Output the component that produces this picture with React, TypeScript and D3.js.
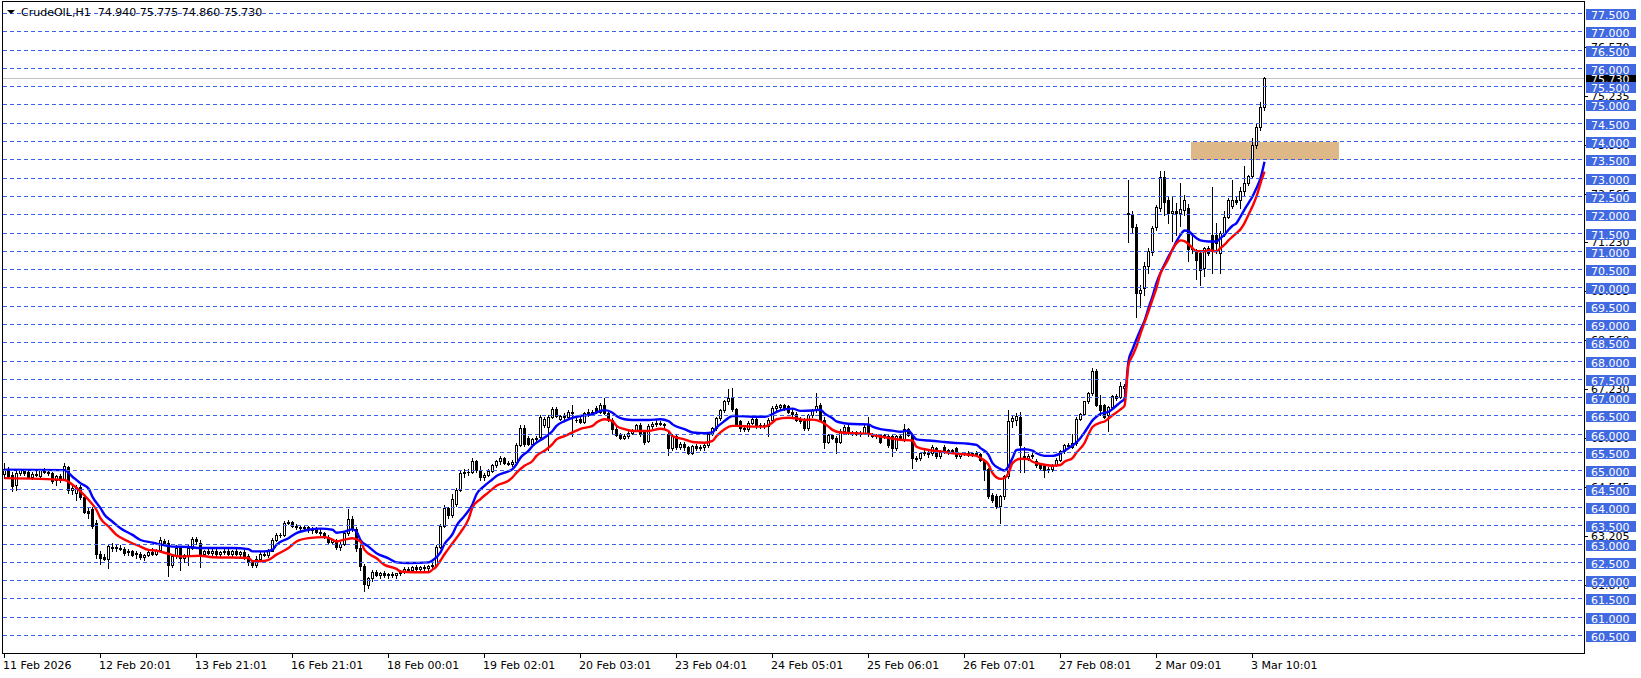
// CrudeOIL H1 chart (MT4 style) drawn with d3
import React, { useEffect, useRef } from 'react';
import * as d3 from 'd3';

const symbolName = 'CrudeOIL,H1';

// hourly bars [open, high, low, close]
const candles: [number, number, number, number][] = [
  [64.92,65.22,64.80,65.06],[65.05,65.10,64.82,64.86],[64.88,64.98,64.44,64.58],[64.60,65.00,64.48,64.94],
  [64.94,65.06,64.88,65.02],[65.00,65.04,64.90,64.95],[64.96,65.00,64.80,64.84],[64.84,64.98,64.78,64.92],
  [64.92,65.00,64.85,64.88],[64.86,65.05,64.82,65.02],[65.02,65.08,64.94,64.98],[64.98,65.04,64.90,64.94],
  [64.94,64.98,64.66,64.72],[64.74,64.90,64.62,64.86],[64.86,64.92,64.70,64.76],[64.78,65.22,64.74,65.12],
  [65.10,65.14,64.40,64.48],[64.48,64.60,64.36,64.52],[64.40,64.62,64.20,64.56],[64.56,64.60,64.24,64.28],
  [64.28,64.34,63.84,63.88],[63.90,64.02,63.72,63.84],[63.96,64.00,63.44,63.50],[63.58,63.66,62.62,62.72],
  [62.72,62.80,62.46,62.62],[62.64,62.72,62.56,62.60],[62.58,63.00,62.34,62.94],[62.92,63.02,62.82,62.88],
  [62.88,62.96,62.80,62.92],[62.90,62.98,62.84,62.86],[62.86,62.92,62.70,62.76],[62.78,62.86,62.70,62.82],
  [62.80,62.84,62.66,62.70],[62.72,62.80,62.62,62.76],[62.74,62.78,62.60,62.64],[62.64,62.74,62.56,62.70],
  [62.70,62.82,62.66,62.78],[62.78,62.88,62.70,62.74],[62.74,62.86,62.70,62.84],[62.84,63.18,62.80,63.10],
  [63.08,63.14,62.98,63.04],[63.04,63.10,62.12,62.44],[62.42,62.70,62.36,62.66],[62.68,62.96,62.62,62.90],
  [62.88,62.92,62.30,62.62],[62.62,62.74,62.52,62.70],[62.70,62.96,62.44,62.90],[62.90,63.18,62.86,63.14],
  [63.14,63.20,63.00,63.08],[63.02,63.10,62.36,62.72],[62.72,62.84,62.66,62.80],[62.80,62.90,62.72,62.76],
  [62.76,62.86,62.70,62.82],[62.82,62.88,62.68,62.72],[62.72,62.82,62.66,62.78],[62.78,62.86,62.72,62.80],
  [62.80,62.88,62.70,62.74],[62.74,62.84,62.68,62.80],[62.80,62.86,62.70,62.72],[62.72,62.82,62.64,62.78],
  [62.78,62.84,62.60,62.66],[62.66,62.72,62.44,62.50],[62.50,62.56,62.36,62.42],[62.42,62.66,62.38,62.60],
  [62.60,62.80,62.56,62.74],[62.74,62.82,62.66,62.70],[62.70,62.86,62.64,62.82],[62.82,63.16,62.80,63.12],
  [63.12,63.30,63.08,63.24],[63.24,63.30,63.18,63.26],[63.26,63.64,63.22,63.58],[63.58,63.66,63.54,63.60],
  [63.60,63.64,63.46,63.50],[63.50,63.56,63.40,63.46],[63.46,63.52,63.36,63.44],[63.44,63.50,63.38,63.46],
  [63.46,63.50,63.34,63.38],[63.38,63.46,63.30,63.42],[63.42,63.46,63.30,63.34],[63.34,63.40,63.26,63.30],
  [63.30,63.34,63.16,63.20],[63.20,63.26,63.02,63.06],[63.06,63.14,63.00,63.10],[63.10,63.14,62.86,62.92],
  [62.92,63.06,62.84,63.00],[63.00,63.36,62.96,63.30],[63.30,63.96,63.26,63.68],[63.68,63.76,63.36,63.42],
  [63.40,63.46,62.80,62.90],[62.90,62.96,62.30,62.40],[62.40,62.46,61.72,61.90],[61.88,62.10,61.80,62.06],
  [62.06,62.30,62.00,62.24],[62.24,62.30,62.12,62.16],[62.16,62.24,62.08,62.20],[62.20,62.26,62.10,62.14],
  [62.14,62.22,62.08,62.18],[62.18,62.24,62.10,62.14],[62.14,62.22,62.06,62.20],[62.20,62.28,62.14,62.24],
  [62.24,62.36,62.20,62.32],[62.32,62.38,62.24,62.28],[62.28,62.40,62.24,62.36],[62.36,62.42,62.28,62.32],
  [62.32,62.40,62.26,62.38],[62.38,62.44,62.30,62.34],[62.34,62.42,62.30,62.40],[62.40,62.50,62.34,62.44],
  [62.44,62.96,62.40,62.92],[62.92,63.54,62.88,63.50],[63.50,64.06,63.46,63.98],[63.98,64.02,63.72,63.78],
  [63.78,64.38,63.74,64.22],[64.10,64.52,64.04,64.48],[64.48,65.00,64.44,64.94],[64.94,65.06,64.82,64.98],
  [64.98,65.06,64.90,64.96],[64.96,65.36,64.94,65.26],[65.26,65.30,64.98,65.02],[65.02,65.14,64.76,64.82],
  [64.84,64.94,64.76,64.90],[64.90,65.04,64.86,65.00],[65.00,65.20,64.96,65.16],[65.16,65.30,65.10,65.26],
  [65.26,65.40,65.20,65.34],[65.34,65.38,65.18,65.22],[65.22,65.28,65.16,65.20],[65.20,65.30,65.14,65.24],
  [65.24,65.76,65.20,65.72],[65.72,66.24,65.68,66.18],[66.18,66.24,65.68,65.74],[65.90,65.94,65.70,65.74],
  [65.74,65.90,65.70,65.86],[65.86,65.94,65.82,65.90],[65.92,66.52,65.88,66.48],[66.24,66.46,66.20,66.42],
  [66.20,66.52,65.56,66.48],[66.48,66.74,66.44,66.70],[66.70,66.74,66.46,66.50],[66.42,66.54,66.38,66.50],
  [66.50,66.58,66.40,66.46],[66.46,66.66,66.42,66.62],[66.62,66.80,65.95,66.58],[66.40,66.46,66.34,66.38],
  [66.42,66.46,66.30,66.34],[66.34,66.62,66.30,66.58],[66.58,66.68,66.50,66.62],[66.56,66.66,66.52,66.62],
  [66.72,66.78,66.58,66.62],[66.62,66.86,66.58,66.80],[66.80,66.98,66.56,66.58],[66.58,66.62,66.36,66.40],
  [66.40,66.44,66.04,66.14],[66.14,66.20,65.94,65.98],[65.98,66.04,65.86,65.90],[65.90,66.00,65.86,65.96],
  [65.94,66.08,65.90,66.04],[66.04,66.14,66.00,66.12],[66.12,66.28,66.08,66.24],[66.24,66.32,65.96,66.00],
  [66.06,66.12,65.74,65.80],[65.82,66.28,65.78,66.22],[66.22,66.34,66.18,66.28],[66.28,66.38,66.22,66.32],
  [66.32,66.36,66.24,66.28],[66.28,66.32,66.20,66.24],[66.00,66.06,65.44,65.62],[65.62,66.00,65.56,65.96],
  [65.96,66.00,65.60,65.64],[65.64,65.80,65.60,65.74],[65.74,65.78,65.58,65.64],[65.64,65.68,65.46,65.50],
  [65.50,65.70,65.46,65.68],[65.68,65.74,65.56,65.62],[65.62,65.72,65.56,65.66],[65.66,65.74,65.58,65.70],
  [65.70,66.06,65.66,66.02],[66.02,66.20,65.98,66.16],[66.16,66.48,66.12,66.44],[66.44,66.70,66.40,66.66],
  [66.66,66.94,66.62,66.90],[66.90,67.24,66.84,67.00],[67.00,67.26,66.64,66.68],[66.68,66.72,66.22,66.28],
  [66.36,66.40,66.10,66.18],[66.18,66.26,66.10,66.14],[66.14,66.36,66.10,66.32],[66.32,66.46,66.28,66.42],
  [66.42,66.46,66.18,66.22],[66.22,66.30,66.16,66.26],[66.26,66.30,66.16,66.22],[66.22,66.44,65.94,66.40],
  [66.40,66.76,66.36,66.72],[66.72,66.82,66.66,66.76],[66.74,66.84,66.70,66.80],[66.80,66.84,66.66,66.70],
  [66.76,66.80,66.58,66.62],[66.62,66.68,66.50,66.56],[66.56,66.60,66.36,66.40],[66.40,66.46,66.30,66.36],
  [66.38,66.44,66.12,66.16],[66.16,66.56,66.12,66.52],[66.52,66.70,66.46,66.66],[66.68,67.12,66.60,66.76],
  [66.80,66.86,66.36,66.40],[66.40,66.46,65.62,65.80],[65.80,66.00,65.76,65.98],[65.98,66.02,65.86,65.90],
  [65.90,65.94,65.48,65.80],[65.80,66.14,65.76,66.10],[66.10,66.24,66.06,66.20],[66.20,66.24,66.00,66.04],
  [66.04,66.10,65.98,66.06],[66.06,66.10,65.98,66.02],[66.02,66.08,65.96,66.04],[66.04,66.24,66.00,66.20],
  [66.24,66.48,65.96,66.00],[66.00,66.04,65.92,65.96],[65.96,66.00,65.90,65.94],[65.98,66.02,65.76,65.80],
  [65.98,66.02,65.90,65.94],[65.94,65.98,65.66,65.72],[65.94,65.98,65.40,65.62],[65.62,65.98,65.58,65.94],
  [65.94,66.00,65.84,65.88],[65.86,66.28,65.82,66.14],[66.14,66.18,65.96,65.98],[65.98,66.02,65.07,65.35],
  [65.35,65.40,65.28,65.32],[65.35,65.52,65.30,65.48],[65.48,65.56,65.42,65.52],[65.52,65.56,65.38,65.46],
  [65.48,65.70,65.44,65.66],[65.62,65.66,65.36,65.40],[65.40,65.56,65.36,65.52],[65.66,65.70,65.50,65.53],
  [65.53,65.60,65.46,65.57],[65.57,65.60,65.48,65.52],[65.62,65.66,65.36,65.40],[65.40,65.50,65.36,65.46],
  [65.46,65.52,65.42,65.50],[65.50,65.54,65.40,65.44],[65.44,65.52,65.40,65.48],[65.48,65.54,65.40,65.44],
  [65.46,65.50,65.28,65.30],[65.26,65.32,64.76,65.04],[65.04,65.08,64.26,64.30],[64.34,64.40,64.16,64.20],
  [64.30,64.36,63.98,64.04],[64.04,64.34,63.57,64.30],[64.30,64.90,64.24,64.86],[64.86,66.66,64.80,66.36],
  [66.36,66.52,66.20,66.44],[66.40,66.58,66.26,66.50],[66.46,66.60,64.96,65.72],[65.40,65.66,64.96,65.36],
  [65.36,65.46,65.30,65.40],[65.40,65.48,65.34,65.44],[65.28,65.32,65.10,65.16],[65.16,65.22,65.02,65.08],
  [65.16,65.20,64.84,65.02],[65.02,65.10,64.98,65.06],[65.04,65.20,65.00,65.16],[65.16,65.34,65.12,65.30],
  [65.30,65.56,65.26,65.53],[65.53,65.74,65.50,65.71],[65.71,65.76,65.64,65.68],[65.66,66.02,65.62,65.76],
  [65.76,66.46,65.72,66.42],[66.42,66.58,66.38,66.56],[66.56,66.92,66.52,66.90],[66.90,67.16,66.86,67.12],
  [67.12,67.82,67.08,67.74],[67.74,67.78,66.76,66.80],[66.80,67.06,66.52,66.66],[66.80,66.84,66.44,66.48],
  [66.52,66.76,66.10,66.74],[66.74,67.08,66.70,67.04],[67.04,67.10,66.94,66.98],[67.02,67.44,66.98,67.32],
  [67.26,67.38,66.92,67.32],[72.02,72.94,71.25,72.06],[72.03,72.09,71.50,71.66],[71.66,71.74,69.20,69.86],
  [69.86,70.07,69.47,69.95],[69.99,70.70,69.80,70.60],[70.60,71.10,70.41,71.00],[70.97,71.70,70.90,71.63],
  [71.66,72.27,71.59,72.20],[72.18,73.20,72.10,73.03],[73.03,73.20,72.00,72.34],[72.40,72.50,71.77,72.05],
  [72.05,72.50,71.27,72.09],[72.09,72.32,71.45,72.05],[72.05,72.86,71.68,72.15],[72.14,72.55,72.00,72.41],
  [72.18,72.30,70.73,71.05],[71.05,71.50,70.95,71.09],[71.00,71.06,70.23,70.77],[70.95,71.00,70.09,70.50],
  [70.55,71.12,70.32,71.09],[71.09,71.14,70.90,70.95],[71.45,72.77,70.41,71.00],[71.45,71.77,70.95,71.23],
  [70.95,71.55,70.41,71.50],[71.50,72.09,71.41,71.95],[71.95,72.45,71.90,72.41],[72.23,72.95,72.18,72.41],
  [72.41,72.50,72.30,72.36],[72.41,72.77,72.18,72.64],[72.64,73.34,72.50,72.86],[72.86,73.09,72.80,73.05],
  [73.05,74.09,73.00,73.91],[73.91,74.50,73.82,74.41],[74.41,75.09,74.32,74.95],[74.94,75.775,74.86,75.73]
];

// moving average of highs (blue), read as [bar, price]
const maHigh: [number, number][] = [
  [0,65.03],[15,65.02],[17,64.84],[19,64.66],[21,64.52],[22,64.29],[24,63.98],[25,63.8],[27,63.61],[29,63.43],
  [32,63.25],[34,63.11],[37,63.04],[39,62.99],[42,62.93],[46,62.92],[49,62.89],[57,62.89],[61,62.86],[62,62.8],
  [65,62.8],[67,62.84],[68,62.98],[71,63.16],[73,63.3],[76,63.39],[79,63.42],[82,63.39],[83,63.31],[85,63.34],
  [87,63.4],[88,63.34],[89,63.11],[91,62.93],[93,62.75],[96,62.61],[98,62.5],[101,62.48],[106,62.5],[107,62.55],
  [109,62.77],[110,63.0],[112,63.27],[113,63.5],[115,63.77],[117,64.09],[118,64.36],[120,64.59],[122,64.77],[123,64.86],
  [125,64.95],[127,65.05],[128,65.18],[129,65.36],[131,65.55],[132,65.68],[135,65.91],[137,66.09],[138,66.23],[140,66.36],
  [142,66.45],[144,66.5],[147,66.55],[149,66.64],[150,66.66],[152,66.59],[153,66.5],[155,66.41],[157,66.39],[161,66.39],
  [164,66.41],[166,66.36],[167,66.27],[170,66.14],[172,66.05],[175,66.03],[177,66.05],[178,66.18],[180,66.36],[182,66.5],
  [183,66.5],[187,66.48],[190,66.48],[192,66.55],[193,66.61],[195,66.68],[197,66.7],[199,66.64],[202,66.65],[204,66.67],
  [205,66.57],[207,66.44],[208,66.35],[210,66.3],[212,66.28],[216,66.27],[217,66.21],[219,66.14],[222,66.1],[224,66.07],
  [226,66.1],[227,65.98],[228,65.86],[231,65.83],[234,65.8],[237,65.77],[241,65.74],[243,65.71],[244,65.62],[246,65.44],
  [247,65.21],[249,65.05],[250,65.01],[251,65.12],[252,65.35],[253,65.57],[255,65.59],[257,65.55],[258,65.48],[260,65.41],
  [262,65.41],[264,65.48],[266,65.62],[268,65.78],[269,65.9],[270,66.05],[271,66.22],[272,66.38],[273,66.48],[274,66.56],
  [276,66.61],[277,66.69],[279,66.88],[280,66.97],[281,68.0],[282,68.32],[283,68.6],[284,68.86],[285,69.1],[286,69.45],
  [287,69.77],[288,70.14],[289,70.41],[290,70.64],[291,70.86],[292,71.05],[293,71.27],[294,71.45],[295,71.57],[296,71.55],
  [297,71.45],[298,71.36],[299,71.3],[301,71.27],[303,71.27],[304,71.36],[305,71.45],[306,71.59],[307,71.7],[308,71.77],
  [309,71.95],[310,72.14],[311,72.32],[312,72.5],[313,72.73],[314,73.0],[315,73.45]
];

// moving average of lows (red), read as [bar, price]
const maLow: [number, number][] = [
  [0,64.8],[15,64.75],[17,64.62],[19,64.44],[21,64.21],[23,63.93],[24,63.7],[26,63.48],[28,63.25],[31,63.07],
  [34,62.93],[36,62.84],[38,62.82],[41,62.73],[44,62.66],[49,62.68],[52,62.64],[61,62.62],[62,62.53],[64,62.53],
  [66,62.57],[68,62.71],[71,62.89],[73,63.07],[76,63.16],[80,63.19],[82,63.12],[83,63.07],[85,63.12],[87,63.16],
  [89,63.07],[90,62.84],[93,62.61],[95,62.43],[98,62.32],[99,62.25],[102,62.23],[106,62.23],[107,62.3],[108,62.39],
  [109,62.55],[110,62.72],[112,63.02],[114,63.32],[116,63.68],[117,64.0],[119,64.23],[121,64.41],[123,64.59],[126,64.73],
  [127,64.82],[128,64.95],[130,65.14],[132,65.27],[133,65.41],[135,65.55],[137,65.73],[138,65.86],[140,65.95],[142,66.05],
  [144,66.15],[147,66.23],[148,66.32],[150,66.41],[152,66.36],[153,66.23],[155,66.14],[157,66.09],[161,66.09],[164,66.15],
  [166,66.09],[167,65.95],[170,65.86],[172,65.79],[175,65.77],[177,65.82],[178,65.95],[180,66.14],[182,66.23],[183,66.23],
  [187,66.21],[190,66.21],[192,66.32],[193,66.41],[196,66.45],[198,66.43],[200,66.39],[202,66.4],[204,66.35],[206,66.21],
  [207,66.12],[209,66.05],[212,66.03],[216,66.01],[218,65.96],[221,65.9],[224,65.85],[227,65.83],[228,65.66],[231,65.57],
  [234,65.53],[237,65.48],[241,65.44],[243,65.41],[244,65.35],[246,65.17],[247,64.94],[249,64.78],[250,64.8],[251,64.94],
  [252,65.21],[254,65.33],[256,65.32],[257,65.25],[259,65.19],[262,65.14],[264,65.16],[265,65.25],[267,65.35],[268,65.5],
  [270,65.76],[271,66.0],[272,66.2],[274,66.32],[275,66.35],[276,66.43],[277,66.52],[279,66.68],[280,66.78],[281,67.9],
  [282,68.15],[283,68.4],[284,68.75],[285,69.05],[286,69.36],[287,69.68],[288,70.0],[289,70.4],[290,70.6],[291,70.8],
  [292,71.05],[293,71.22],[294,71.3],[295,71.28],[296,71.2],[297,71.09],[298,71.0],[300,71.0],[301,71.03],[303,71.0],
  [304,71.09],[305,71.18],[306,71.3],[307,71.4],[308,71.5],[309,71.6],[310,71.77],[311,72.0],[312,72.23],[313,72.5],
  [314,72.86],[315,73.18]
];

// horizontal level lines with labels
const levelPrices = [
  77.5, 77.0, 76.5, 76.0, 75.5, 75.0, 74.5, 74.0, 73.5, 73.0, 72.5, 72.0, 71.5, 71.0, 70.5, 70.0, 69.5, 69.0,
  68.5, 68.0, 67.5, 67.0, 66.5, 66.0, 65.5, 65.0, 64.5, 64.0, 63.5, 63.0, 62.5, 62.0, 61.5, 61.0, 60.5
];

// terminal's own price scale (mostly hidden behind the level labels)
const scalePrices = [76.57, 75.235, 73.9, 72.565, 71.23, 69.895, 68.56, 67.23, 65.88, 64.545, 63.205, 61.87];

const timeLabels = [
  '11 Feb 2026', '12 Feb 20:01', '13 Feb 21:01', '16 Feb 21:01', '18 Feb 00:01', '19 Feb 02:01', '20 Feb 03:01',
  '23 Feb 04:01', '24 Feb 05:01', '25 Feb 06:01', '26 Feb 07:01', '27 Feb 08:01', '2 Mar 09:01', '3 Mar 10:01'
];
const timeLabelBars = [0, 24, 48, 72, 96, 120, 144, 168, 192, 216, 240, 264, 288, 312];

// supply/demand box
const zoneBars = [296.75, 333.75];
const zonePrices = [73.5, 74.0];

const FONT = '"DejaVu Sans", Verdana, sans-serif';

export default function App() {
  const svgRef = useRef<SVGSVGElement>(null);

  useEffect(() => {
    if (!svgRef.current) return;
    document.body.style.margin = '0';
    const svg = d3.select(svgRef.current);
    svg.selectAll('*').remove();

    const left = 2.5, right = 1584.5, top = 1.5, bottom = 653.5;
    const x = d3.scaleLinear().domain([0, 315]).range([4, 1264]);
    const y = d3.scaleLinear().domain([60.5, 77.5]).range([635.5, 13.5]);
    const row = (p: number) => Math.floor(y(p)) + 0.5;

    svg.append('rect').attr('width', 1641).attr('height', 678).attr('fill', '#fff');

    const defs = svg.append('defs');
    defs.append('clipPath').attr('id', 'plotClip')
      .append('rect').attr('x', left).attr('y', top).attr('width', right - left).attr('height', bottom - top);

    const plot = svg.append('g').attr('clip-path', 'url(#plotClip)');

    // zone rectangle (background)
    plot.append('rect')
      .attr('x', Math.round(x(zoneBars[0])))
      .attr('y', Math.round(y(zonePrices[1])))
      .attr('width', Math.round(x(zoneBars[1])) - Math.round(x(zoneBars[0])))
      .attr('height', Math.round(y(zonePrices[0])) - Math.round(y(zonePrices[1])))
      .attr('fill', '#DEB887');

    // last price line
    const last = candles[candles.length - 1];
    plot.append('line')
      .attr('x1', left).attr('x2', right)
      .attr('y1', row(last[3])).attr('y2', row(last[3]))
      .attr('stroke', '#C0C0C0').attr('stroke-width', 1)
      .attr('shape-rendering', 'crispEdges');

    // candles
    const cg = plot.append('g').attr('shape-rendering', 'crispEdges');
    candles.forEach(([o, h, l, c], i) => {
      const cx = Math.round(x(i));
      cg.append('line')
        .attr('x1', cx + 0.5).attr('x2', cx + 0.5)
        .attr('y1', Math.round(y(h))).attr('y2', Math.round(y(l)) + 1)
        .attr('stroke', '#000').attr('stroke-width', 1);
      const t = Math.round(y(Math.max(o, c)));
      const b = Math.round(y(Math.min(o, c)));
      if (b - t < 1) {
        cg.append('line')
          .attr('x1', cx - 1).attr('x2', cx + 2)
          .attr('y1', t + 0.5).attr('y2', t + 0.5)
          .attr('stroke', '#000');
      } else if (c >= o) {
        cg.append('rect')
          .attr('x', cx - 0.5).attr('y', t + 0.5)
          .attr('width', 2).attr('height', b - t)
          .attr('fill', '#fff').attr('stroke', '#000').attr('stroke-width', 1);
      } else {
        cg.append('rect')
          .attr('x', cx - 1).attr('y', t)
          .attr('width', 3).attr('height', b - t + 1)
          .attr('fill', '#000');
      }
    });

    // moving averages
    const line = d3.line<[number, number]>()
      .x(d => x(d[0]) + 0.5)
      .y(d => y(d[1]))
      .curve(d3.curveMonotoneX);
    plot.append('path').attr('d', line(maHigh) as string)
      .attr('fill', 'none').attr('stroke', '#0000FF').attr('stroke-width', 2.4)
      .attr('stroke-linejoin', 'round');
    plot.append('path').attr('d', line(maLow) as string)
      .attr('fill', 'none').attr('stroke', '#FF0000').attr('stroke-width', 2.4)
      .attr('stroke-linejoin', 'round');

    // dashed level lines
    levelPrices.forEach(p => {
      plot.append('line')
        .attr('x1', left).attr('x2', right)
        .attr('y1', row(p)).attr('y2', row(p))
        .attr('stroke', '#3A62E4').attr('stroke-width', 1)
        .attr('stroke-dasharray', '4,3')
        .attr('shape-rendering', 'crispEdges');
    });

    // frame
    svg.append('rect')
      .attr('x', left).attr('y', top)
      .attr('width', right - left).attr('height', bottom - top)
      .attr('fill', 'none').attr('stroke', '#000').attr('stroke-width', 1)
      .attr('shape-rendering', 'crispEdges');

    // price scale (terminal labels, behind)
    const axis = svg.append('g').attr('font-family', FONT).attr('font-size', 11);
    scalePrices.forEach(p => {
      axis.append('line')
        .attr('x1', right).attr('x2', right + 3)
        .attr('y1', row(p)).attr('y2', row(p))
        .attr('stroke', '#000').attr('shape-rendering', 'crispEdges');
      axis.append('text')
        .attr('x', 1591).attr('y', Math.floor(y(p)) + 4)
        .attr('fill', '#000')
        .text(p.toFixed(3));
    });

    // current price label
    const ly = Math.floor(y(last[3]));
    axis.append('rect')
      .attr('x', 1586).attr('y', ly - 4).attr('width', 50).attr('height', 11)
      .attr('fill', '#000');
    axis.append('text')
      .attr('x', 1591).attr('y', ly + 5)
      .attr('fill', '#fff')
      .text(last[3].toFixed(3));

    // level labels
    levelPrices.forEach(p => {
      const gy = Math.floor(y(p));
      axis.append('rect')
        .attr('x', 1586).attr('y', gy - 4).attr('width', 50).attr('height', 11)
        .attr('fill', '#4169E1');
      axis.append('text')
        .attr('x', 1591).attr('y', gy + 5.5)
        .attr('fill', '#fff')
        .text(p.toFixed(3));
    });

    // time axis
    timeLabelBars.forEach((b, k) => {
      const cx = Math.round(x(b));
      axis.append('line')
        .attr('x1', cx + 0.5).attr('x2', cx + 0.5)
        .attr('y1', bottom).attr('y2', bottom + 4)
        .attr('stroke', '#000').attr('shape-rendering', 'crispEdges');
      axis.append('text')
        .attr('x', cx - 1).attr('y', 669)
        .attr('fill', '#000')
        .text(timeLabels[k]);
    });

    // header
    svg.append('path')
      .attr('d', 'M7,10 L15,10 L11,14 Z')
      .attr('fill', '#000');
    svg.append('text')
      .attr('x', 21).attr('y', 16)
      .attr('font-family', FONT).attr('font-size', 11)
      .attr('fill', '#000')
      .attr('xml:space', 'preserve')
      .text(`${symbolName}  ${last.map(v => v.toFixed(3)).join(' ')}`);
  }, []);

  return (
    <div style={{ position: 'absolute', left: 0, top: 0 }}>
      <svg ref={svgRef} width={1641} height={678} style={{ display: 'block' }} />
    </div>
  );
}
